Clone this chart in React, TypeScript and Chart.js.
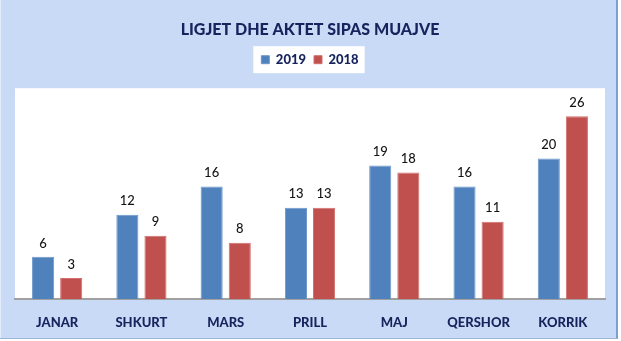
import React, { useEffect, useRef } from "react";
import { Chart, registerables } from "chart.js";

Chart.register(...registerables);

const categories = ["JANAR", "SHKURT", "MARS", "PRILL", "MAJ", "QERSHOR", "KORRIK"];
const values2019 = [6, 12, 16, 13, 19, 16, 20];
const values2018 = [3, 9, 8, 13, 18, 11, 26];
const seriesNames = ["2019", "2018"];
const titleText = "LIGJET DHE AKTET SIPAS MUAJVE";

const FONT = "Lato, 'Open Sans', sans-serif";
const NAVY = "#16235C";
const BLUE = "#4F81BD";
const RED = "#C0504D";

const layoutPatchPlugin = {
  id: "legendSpace",
  beforeUpdate(chart: any) {
    const lg = chart.legend;
    if (lg && !lg._patched) {
      const orig = lg.fit.bind(lg);
      lg.fit = function () {
        orig();
        this.height += 12;
      };
      lg._patched = true;
    }
  },
};

const backgroundPlugin = {
  id: "bgPlugin",
  beforeDraw(chart: any) {
    const { ctx, width, height, chartArea, legend } = chart;
    ctx.save();
    ctx.fillStyle = "#ffffff";
    ctx.fillRect(0, 0, width, height);
    ctx.fillStyle = "#C9DAF7";
    ctx.fillRect(0, 0, width - 4, height - 2);
    // outer border
    ctx.fillStyle = "#7F9FD0";
    ctx.fillRect(width - 5, 0, 2, height - 2);
    ctx.fillStyle = "#9DB3D8";
    ctx.fillRect(0, height - 3, width - 4, 1);
    ctx.fillStyle = "#E3ECFB";
    ctx.fillRect(0, 0, 1, height - 3);
    // plot area
    ctx.fillStyle = "#ffffff";
    ctx.fillRect(chartArea.left, chartArea.top, chartArea.right - chartArea.left, chartArea.bottom - chartArea.top);
    // legend box around items
    if (legend && legend.legendHitBoxes && legend.legendHitBoxes.length) {
      const boxes = legend.legendHitBoxes;
      let l = Infinity, r = -Infinity, t = Infinity, b = -Infinity;
      boxes.forEach((h: any) => {
        l = Math.min(l, h.left);
        r = Math.max(r, h.left + h.width);
        t = Math.min(t, h.top);
        b = Math.max(b, h.top + h.height);
      });
      const cy = (t + b) / 2;
      ctx.fillRect(l - 8, cy - 13.5, r - l + 14, 27);
    }
    ctx.restore();
  },
};

const labelPlugin = {
  id: "valueLabels",
  afterDatasetsDraw(chart: any) {
    const { ctx } = chart;
    ctx.save();
    ctx.font = `500 13px ${FONT}`;
    ctx.fillStyle = "#141414";
    ctx.textAlign = "center";
    ctx.textBaseline = "bottom";
    chart.data.datasets.forEach((ds: any, i: number) => {
      const meta = chart.getDatasetMeta(i);
      meta.data.forEach((bar: any, j: number) => {
        ctx.fillText(String(ds.data[j]), bar.x, bar.y - 7);
      });
    });
    ctx.restore();
  },
};

export default function App() {
  const canvasRef = useRef<HTMLCanvasElement | null>(null);

  useEffect(() => {
    document.body.style.margin = "0";
    const canvas = canvasRef.current;
    if (!canvas) return;
    const chart = new Chart(canvas, {
      type: "bar",
      data: {
        labels: categories,
        datasets: [
          {
            label: seriesNames[0],
            data: values2019,
            backgroundColor: BLUE,
            borderColor: "#6E97CB",
            borderWidth: 1,
            categoryPercentage: 0.667,
            barPercentage: 0.786,
          },
          {
            label: seriesNames[1],
            data: values2018,
            backgroundColor: RED,
            borderColor: "#D26F6C",
            borderWidth: 1,
            categoryPercentage: 0.667,
            barPercentage: 0.786,
          },
        ],
      },
      options: {
        animation: false,
        responsive: false,
        maintainAspectRatio: false,
        layout: { padding: { left: 15, right: 16, top: 0, bottom: 10 } },
        plugins: {
          title: {
            display: true,
            text: titleText,
            color: NAVY,
            font: { family: FONT, size: 16, weight: 900 },
            padding: { top: 20, bottom: 6 },
          },
          legend: {
            display: true,
            labels: {
              color: NAVY,
              font: { family: FONT, size: 13, weight: 900 },
              boxWidth: 8,
              boxHeight: 8,
              padding: 8,
            },
          },
          tooltip: { enabled: false },
        },
        scales: {
          x: {
            grid: { display: false, drawTicks: false },
            border: { display: true, color: "#A0A0A0", width: 2 },
            ticks: {
              color: NAVY,
              font: { family: FONT, size: 13, weight: 900 },
              padding: 16,
            },
            afterFit: (scale: any) => {
              scale.height = 32;
            },
          },
          y: {
            display: false,
            min: 0,
            max: 30,
          },
        },
      },
      plugins: [layoutPatchPlugin, backgroundPlugin, labelPlugin],
    });
    return () => chart.destroy();
  }, []);

  return <canvas ref={canvasRef} width={621} height={341} style={{ display: "block", width: 621, height: 341 }} />;
}
